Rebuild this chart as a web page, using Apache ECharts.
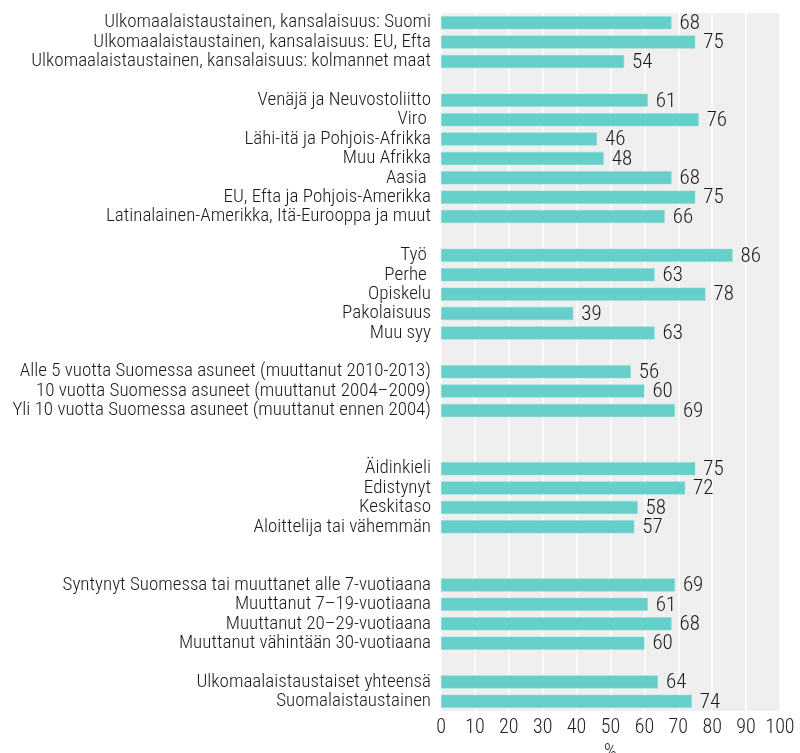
<!DOCTYPE html>
<html>
<head>
<meta charset="utf-8">
<script src="https://cdn.jsdelivr.net/npm/echarts@6/dist/echarts.min.js"></script>
<style>
  html, body { margin: 0; padding: 0; background: #fff; }
  #chart { width: 800px; height: 753px; }
</style>
</head>
<body>
<div id="chart"></div>
<script>
// ryhmät ja arvot (%)
const kansalaisuus = ['Ulkomaalaistaustainen, kansalaisuus: Suomi', 'Ulkomaalaistaustainen, kansalaisuus: EU, Efta', 'Ulkomaalaistaustainen, kansalaisuus: kolmannet maat']
const kansalaisuusArvot = [68, 75, 54]

const alue = ['Venäjä ja Neuvostoliitto', 'Viro ', 'Lähi-itä ja Pohjois-Afrikka', 'Muu Afrikka', 'Aasia ', 'EU, Efta ja Pohjois-Amerikka', 'Latinalainen-Amerikka, Itä-Eurooppa ja muut']
const alueArvot = [61, 76, 46, 48, 68, 75, 66]

const syy = ['Työ ', 'Perhe ', 'Opiskelu', 'Pakolaisuus', 'Muu syy']
const syyArvot = [86, 63, 78, 39, 63]

const asumisaika = ['Alle 5 vuotta Suomessa asuneet (muuttanut 2010-2013)', '10 vuotta Suomessa asuneet (muuttanut 2004–2009)', 'Yli 10 vuotta Suomessa asuneet (muuttanut ennen 2004)']
const asumisaikaArvot = [56, 60, 69]

const kielitaito = ['Äidinkieli', 'Edistynyt', 'Keskitaso', 'Aloittelija tai vähemmän']
const kielitaitoArvot = [75, 72, 58, 57]

const muuttoika = ['Syntynyt Suomessa tai muuttanet alle 7-vuotiaana', 'Muuttanut 7–19-vuotiaana', 'Muuttanut 20–29-vuotiaana', 'Muuttanut vähintään 30-vuotiaana']
const muuttoikaArvot = [69, 61, 68, 60]

const yhteensa = ['Ulkomaalaistaustaiset yhteensä', 'Suomalaistaustainen']
const yhteensaArvot = [64, 74]

const xTicks = [0, 10, 20, 30, 40, 50, 60, 70, 80, 90, 100]

// ryhmien väliin tyhjiä rivejä (1 tai 2)
const groups = [
  [kansalaisuus, kansalaisuusArvot, 1],
  [alue, alueArvot, 1],
  [syy, syyArvot, 1],
  [asumisaika, asumisaikaArvot, 2],
  [kielitaito, kielitaitoArvot, 2],
  [muuttoika, muuttoikaArvot, 1],
  [yhteensa, yhteensaArvot, 0],
]

const categories = []
const values = []
let blank = 0
groups.forEach(([names, vals, gap]) => {
  names.forEach((n, i) => {
    categories.push(n)
    values.push(vals[i])
  })
  for (let g = 0; g < gap; g++) {
    blank++
    categories.push(' '.repeat(blank))
    values.push(null)
  }
})

const font = '"Liberation Sans Narrow", "Roboto Condensed", "Liberation Sans", sans-serif'

const chart = echarts.init(document.getElementById('chart'))
chart.setOption({
  animation: false,
  grid: {
    left: 441,
    right: 20,
    top: 13,
    bottom: 42,
    outerBoundsMode: 'none',
    show: true,
    backgroundColor: '#efefef',
    borderWidth: 0,
  },
  xAxis: {
    type: 'value',
    min: 0,
    max: 100,
    interval: 10,
    name: '%',
    nameLocation: 'middle',
    nameGap: 31,
    nameTextStyle: { fontFamily: font, fontWeight: 300, fontSize: 20, color: '#222' },
    axisLine: { show: false },
    axisTick: { show: false },
    axisLabel: {
      fontFamily: font,
      fontWeight: 300,
      fontSize: 20,
      color: '#222',
      margin: 7,
      formatter: (v) => (xTicks.includes(v) ? String(v) : ''),
    },
    splitLine: { show: true, lineStyle: { color: '#ffffff', width: 1.5 } },
  },
  yAxis: {
    type: 'category',
    inverse: true,
    data: categories,
    axisLine: { show: false },
    axisTick: { show: false },
    splitLine: { show: false },
    axisLabel: {
      interval: 0,
      fontFamily: font,
      fontWeight: 300,
      fontSize: 19,
      color: '#1a1a1a',
      margin: 10,
    },
  },
  series: [
    {
      type: 'bar',
      data: values,
      barWidth: 13,
      itemStyle: { color: '#66cfca', borderColor: '#8fdcd7', borderWidth: 0.5 },
      label: {
        show: true,
        position: 'right',
        distance: 8,
        offset: [0, 1],
        fontFamily: font,
        fontWeight: 300,
        fontSize: 21,
        color: '#1a1a1a',
      },
    },
  ],
})
</script>
</body>
</html>
